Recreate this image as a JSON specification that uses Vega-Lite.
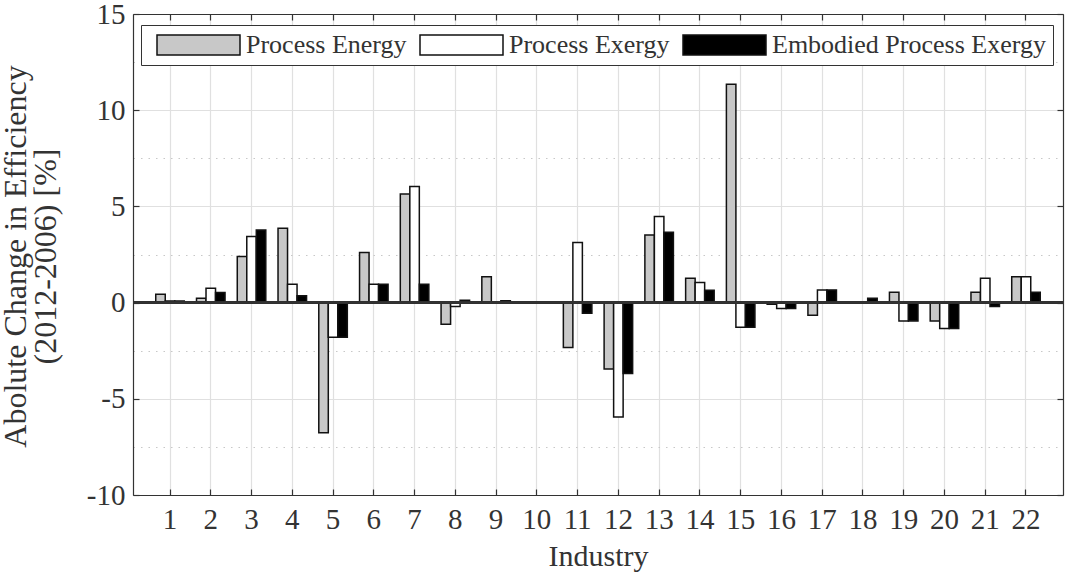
{
  "$schema": "https://vega.github.io/schema/vega-lite/v6.json",
  "width": 930,
  "height": 481,
  "autosize": {"type": "none"},
  "padding": {"left": 133, "top": 14, "right": 2, "bottom": 79},
  "background": "white",
  "config": {
    "font": "Liberation Serif",
    "view": {"stroke": null},
    "legend": {"labelFont": "Liberation Serif", "titleFont": "Liberation Serif"},
    "axisY": {"titleFont": "Liberation Serif", "labelFont": "Liberation Serif"},
    "axis": {"labelFont": "Liberation Serif", "titleFont": "Liberation Serif", "labelColor": "#333", "titleColor": "#333", "titleFontWeight": "normal", "domainColor": "#333", "domainWidth": 1.2, "tickColor": "#333", "tickWidth": 1.2, "gridColor": "#e0e0e0", "gridWidth": 1.2}
  },
  "data": {"values": [
    {"industry": 1, "series": "Process Energy", "value": 0.43},
    {"industry": 1, "series": "Process Exergy", "value": 0.08},
    {"industry": 1, "series": "Embodied Process Exergy", "value": 0.08},
    {"industry": 2, "series": "Process Energy", "value": 0.23},
    {"industry": 2, "series": "Process Exergy", "value": 0.75},
    {"industry": 2, "series": "Embodied Process Exergy", "value": 0.52},
    {"industry": 3, "series": "Process Energy", "value": 2.4},
    {"industry": 3, "series": "Process Exergy", "value": 3.44},
    {"industry": 3, "series": "Embodied Process Exergy", "value": 3.77},
    {"industry": 4, "series": "Process Energy", "value": 3.87},
    {"industry": 4, "series": "Process Exergy", "value": 0.95},
    {"industry": 4, "series": "Embodied Process Exergy", "value": 0.35},
    {"industry": 5, "series": "Process Energy", "value": -6.77},
    {"industry": 5, "series": "Process Exergy", "value": -1.8},
    {"industry": 5, "series": "Embodied Process Exergy", "value": -1.8},
    {"industry": 6, "series": "Process Energy", "value": 2.6},
    {"industry": 6, "series": "Process Exergy", "value": 0.95},
    {"industry": 6, "series": "Embodied Process Exergy", "value": 0.95},
    {"industry": 7, "series": "Process Energy", "value": 5.64},
    {"industry": 7, "series": "Process Exergy", "value": 6.04},
    {"industry": 7, "series": "Embodied Process Exergy", "value": 0.95},
    {"industry": 8, "series": "Process Energy", "value": -1.13},
    {"industry": 8, "series": "Process Exergy", "value": -0.2},
    {"industry": 8, "series": "Embodied Process Exergy", "value": 0.12},
    {"industry": 9, "series": "Process Energy", "value": 1.35},
    {"industry": 9, "series": "Process Exergy", "value": 0},
    {"industry": 9, "series": "Embodied Process Exergy", "value": 0.1},
    {"industry": 10, "series": "Process Energy", "value": 0},
    {"industry": 10, "series": "Process Exergy", "value": 0},
    {"industry": 10, "series": "Embodied Process Exergy", "value": 0},
    {"industry": 11, "series": "Process Energy", "value": -2.33},
    {"industry": 11, "series": "Process Exergy", "value": 3.12},
    {"industry": 11, "series": "Embodied Process Exergy", "value": -0.56},
    {"industry": 12, "series": "Process Energy", "value": -3.45},
    {"industry": 12, "series": "Process Exergy", "value": -5.94},
    {"industry": 12, "series": "Embodied Process Exergy", "value": -3.68},
    {"industry": 13, "series": "Process Energy", "value": 3.52},
    {"industry": 13, "series": "Process Exergy", "value": 4.48},
    {"industry": 13, "series": "Embodied Process Exergy", "value": 3.66},
    {"industry": 14, "series": "Process Energy", "value": 1.27},
    {"industry": 14, "series": "Process Exergy", "value": 1.04},
    {"industry": 14, "series": "Embodied Process Exergy", "value": 0.64},
    {"industry": 15, "series": "Process Energy", "value": 11.35},
    {"industry": 15, "series": "Process Exergy", "value": -1.28},
    {"industry": 15, "series": "Embodied Process Exergy", "value": -1.28},
    {"industry": 16, "series": "Process Energy", "value": -0.09},
    {"industry": 16, "series": "Process Exergy", "value": -0.31},
    {"industry": 16, "series": "Embodied Process Exergy", "value": -0.31},
    {"industry": 17, "series": "Process Energy", "value": -0.66},
    {"industry": 17, "series": "Process Exergy", "value": 0.66},
    {"industry": 17, "series": "Embodied Process Exergy", "value": 0.66},
    {"industry": 18, "series": "Process Energy", "value": 0},
    {"industry": 18, "series": "Process Exergy", "value": 0},
    {"industry": 18, "series": "Embodied Process Exergy", "value": 0.22},
    {"industry": 19, "series": "Process Energy", "value": 0.54},
    {"industry": 19, "series": "Process Exergy", "value": -0.95},
    {"industry": 19, "series": "Embodied Process Exergy", "value": -0.95},
    {"industry": 20, "series": "Process Energy", "value": -0.95},
    {"industry": 20, "series": "Process Exergy", "value": -1.35},
    {"industry": 20, "series": "Embodied Process Exergy", "value": -1.35},
    {"industry": 21, "series": "Process Energy", "value": 0.54},
    {"industry": 21, "series": "Process Exergy", "value": 1.27},
    {"industry": 21, "series": "Embodied Process Exergy", "value": -0.2},
    {"industry": 22, "series": "Process Energy", "value": 1.35},
    {"industry": 22, "series": "Process Exergy", "value": 1.35},
    {"industry": 22, "series": "Embodied Process Exergy", "value": 0.54}
  ]},
  "layer": [
    {
      "mark": {"type": "bar", "stroke": "#111", "strokeWidth": 1.5},
      "encoding": {
        "x": {"field": "industry", "type": "ordinal", "sort": "ascending",
          "scale": {"paddingInner": 0.3, "paddingOuter": 0.558},
          "axis": {"orient": "bottom", "title": "Industry", "labelAngle": 0, "labelFont": "Liberation Serif", "titleFont": "Liberation Serif", "labelFontSize": 29, "titleFontSize": 30, "grid": true, "bandPosition": 0.5, "tickBand": "center", "tickSize": -6, "labelPadding": 16, "titleY": 70, "titleBaseline": "alphabetic"}},
        "xOffset": {"field": "series", "type": "nominal", "sort": ["Process Energy", "Process Exergy", "Embodied Process Exergy"], "scale": {"paddingInner": 0, "paddingOuter": 0}},
        "y": {"field": "value", "type": "quantitative",
          "scale": {"domain": [-10, 15], "nice": false, "zero": false},
          "axis": {"orient": "left", "title": ["Abolute Change in Efficiency", "(2012-2006) [%]"], "values": [-10, -7.5, -5, -2.5, 0, 2.5, 5, 7.5, 10, 12.5, 15],
            "labelExpr": "datum.value % 5 === 0 ? '' + datum.value : ''",
            "labelFont": "Liberation Serif", "titleFont": "Liberation Serif",
            "labelFontSize": 29, "titleFontSize": 32, "titleLineHeight": 30, "tickSize": -6, "labelPadding": 14,
            "tickOpacity": {"condition": {"test": "datum.value % 5 === 0", "value": 1}, "value": 0},
            "gridDash": {"condition": {"test": "datum.value % 5 === 0", "value": []}, "value": [1.5, 6]},
            "gridColor": {"condition": {"test": "datum.value % 5 === 0", "value": "#e0e0e0"}, "value": "#c8c8c8"},
            "titleX": -118, "titleY": 242, "titleAngle": -90, "titleBaseline": "middle", "titleAlign": "center"}},
        "fill": {"field": "series", "type": "nominal",
          "scale": {"domain": ["Process Energy", "Process Exergy", "Embodied Process Exergy"], "range": ["#c8c8c8", "#ffffff", "#000000"]},
          "legend": {"title": null, "orient": "none", "legendX": 8, "legendY": 11, "direction": "horizontal",
            "symbolType": "M-4.15,-1H4.15V1H-4.15Z", "symbolSize": 400, "symbolStrokeColor": "#111", "symbolStrokeWidth": 1.5,
            "labelFont": "Liberation Serif", "labelFontSize": 26, "labelColor": "#333", "labelLimit": 400, "labelOffset": 34.5,
            "columnPadding": 4, "padding": 7, "symbolOffset": 37.5, "strokeColor": "#333", "fillColor": "white"}}
      }
    },
    {
      "mark": {"type": "bar", "opacity": 0},
      "encoding": {
        "x": {"field": "industry", "type": "ordinal", "sort": "ascending",
          "axis": {"orient": "top", "title": null, "labels": false, "grid": false, "bandPosition": 0.5, "tickBand": "center", "tickSize": -6}},
        "y": {"field": "value", "type": "quantitative",
          "axis": {"orient": "right", "title": null, "labels": false, "grid": false, "values": [-10, -5, 0, 5, 10, 15], "tickSize": -6}}
      }
    },
    {
      "mark": {"type": "rule", "color": "#333", "strokeWidth": 1.5},
      "encoding": {"y": {"datum": 0, "type": "quantitative", "axis": null}}
    }
  ],
  "resolve": {"axis": {"x": "independent", "y": "independent"}}
}
